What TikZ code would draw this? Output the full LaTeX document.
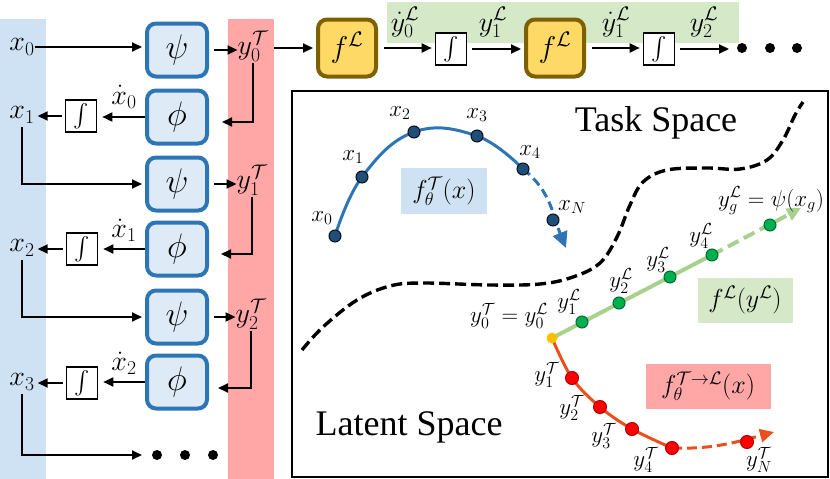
\documentclass[tikz,border=0pt]{standalone}
\usepackage{fix-cm}
\usepackage{graphicx}
\usepackage[no-math]{fontspec}
\setmainfont{Liberation Serif}
\usetikzlibrary{arrows.meta}
\definecolor{colblue}{RGB}{207,226,243}
\definecolor{colred}{RGB}{255,166,166}
\definecolor{boxfill}{RGB}{222,235,247}
\definecolor{boxline}{RGB}{46,117,182}
\definecolor{fLfill}{RGB}{255,217,102}
\definecolor{fLline}{RGB}{127,96,0}
\definecolor{colgreen}{RGB}{213,232,200}
\definecolor{curveblue}{RGB}{46,117,182}
\definecolor{dotblue}{RGB}{31,78,121}
\definecolor{linegreen}{RGB}{169,209,142}
\definecolor{dotgreen}{RGB}{0,176,80}
\definecolor{linered}{RGB}{232,80,30}
\definecolor{dotred}{RGB}{255,0,0}
\definecolor{dotyellow}{RGB}{255,192,0}
\newcommand{\bigint}{\scalebox{2.3}{$\int$}}
\tikzset{
  arr/.style={-{Triangle[length=10pt,width=9pt]}, line width=1.8pt},
  psibox/.style={rectangle, rounded corners=9pt, draw=boxline, fill=boxfill, line width=4pt,
    minimum width=60pt, minimum height=53pt, inner sep=0pt, font=\fontsize{34}{40}\selectfont},
  flbox/.style={rectangle, rounded corners=9pt, draw=fLline, fill=fLfill, line width=4pt,
    minimum width=58pt, minimum height=57pt, inner sep=0pt, font=\fontsize{30}{36}\selectfont},
  intbox/.style={rectangle, draw, line width=1.6pt, fill=white, minimum width=31pt,
    minimum height=32pt, inner sep=0pt},
  lab/.style={inner sep=0pt, font=\fontsize{28}{32}\selectfont},
  plab/.style={inner sep=0pt, font=\fontsize{23}{27}\selectfont},
  tlab/.style={inner sep=0pt, font=\fontsize{36}{40}\selectfont},
  lbox/.style={inner sep=0pt, font=\fontsize{26}{30}\selectfont},
  bigdot/.style={circle, fill=black, minimum size=10pt, inner sep=0pt},
  bdot/.style={circle, fill=dotblue, draw=black!80!dotblue, line width=1pt, minimum size=12pt, inner sep=0pt},
  gdot/.style={circle, fill=dotgreen, draw=black!40!dotgreen, line width=1pt, minimum size=12pt, inner sep=0pt},
  rdot/.style={circle, fill=dotred, draw=black!30!dotred, line width=1pt, minimum size=13pt, inner sep=0pt},
  ydot/.style={circle, fill=dotyellow, minimum size=11pt, inner sep=0pt},
}
\begin{document}
\begin{tikzpicture}[x=1pt,y=-1pt]
\useasboundingbox (0,0) rectangle (830,479);
% background bands
\fill[colblue] (0,19) rectangle (46,479);
\fill[colred] (228,19) rectangle (274,479);
\fill[colgreen] (387,2) rectangle (739,43);

% left column labels
\node[lab] (x0) at (22,47) {$x_0$};
\node[lab] (x1) at (22,115) {$x_1$};
\node[lab] (x2) at (22,248) {$x_2$};
\node[lab] (x3) at (22,382) {$x_3$};

% psi / phi boxes
\node[psibox] (psi1) at (177,50) {$\psi$};
\node[psibox] (phi1) at (177,117) {$\phi$};
\node[psibox] (psi2) at (177,184) {$\psi$};
\node[psibox] (phi2) at (177,249) {$\phi$};
\node[psibox] (psi3) at (177,317) {$\psi$};
\node[psibox] (phi3) at (177,382) {$\phi$};

% integrators (left)
\node[intbox] (int1) at (81,116) {\bigint};
\node[intbox] (int2) at (82,249) {\bigint};
\node[intbox] (int3) at (82,383) {\bigint};

% red column labels
\node[lab] (y0T) at (253,46) {$y_0^{\mathcal{T}}$};
\node[lab] (y1T) at (252,180) {$y_1^{\mathcal{T}}$};
\node[lab] (y2T) at (251,314) {$y_2^{\mathcal{T}}$};

% xdot labels
\node[lab, anchor=base] (xd0) at (124,104) {$\dot{x}_0$};
\node[lab, anchor=base] (xd1) at (124,237) {$\dot{x}_1$};
\node[lab, anchor=base] (xd2) at (124,370) {$\dot{x}_2$};

% coordinates for arrow ends
\coordinate (c1) at (222,122);
\coordinate (c2) at (221,254);
\coordinate (c3) at (218,388);
\coordinate (e3) at (142,455);

% left arrows
\draw[arr, shorten >=3pt] (x0.east) -- (x0.east -| psi1.west);
\draw[arr, shorten <=5pt] (psi1.east) -- (psi1.east -| y0T.west);
\draw[arr, shorten <=5pt] (psi2.east) -- (psi2.east -| y1T.west);
\draw[arr, shorten <=5pt] (psi3.east) -- (psi3.east -| y2T.west);
\draw[arr, shorten <=2pt] (y0T.south) |- (c1);
\draw[arr, shorten <=2pt] (y1T.south) |- (c2);
\draw[arr, shorten <=2pt] (y2T.south) |- (c3);
\draw[arr, shorten >=5pt] (phi1.west) -- (phi1.west -| int1.east);
\draw[arr, shorten >=5pt] (phi2.west) -- (phi2.west -| int2.east);
\draw[arr, shorten >=5pt] (phi3.west) -- (phi3.west -| int3.east);
\draw[arr, shorten <=3pt, shorten >=3pt] (int1.west) -- (int1.west -| x1.east);
\draw[arr, shorten <=3pt, shorten >=3pt] (int2.west) -- (int2.west -| x2.east);
\draw[arr, shorten <=3pt, shorten >=3pt] (int3.west) -- (int3.west -| x3.east);
\draw[arr, shorten <=4pt, shorten >=3pt] (x1.south) |- (psi2.west);
\draw[arr, shorten <=4pt, shorten >=3pt] (x2.south) |- (psi3.west);
\draw[arr, shorten <=4pt] (x3.south) |- (e3);
\node[bigdot] (ld1) at (157,455) {};
\node[bigdot] (ld2) at (185,455) {};
\node[bigdot] (ld3) at (213,455) {};

% top row
\coordinate (t0) at (274,48);
\coordinate (t5) at (729,48);
\node[flbox] (fL1) at (347,48) {$f^{\mathcal{L}}$};
\node[intbox] (int4) at (451,49) {\bigint};
\node[flbox] (fL2) at (555,48) {$f^{\mathcal{L}}$};
\node[intbox] (int5) at (659,49) {\bigint};
\draw[arr, shorten >=3pt] (t0) -- (t0 -| fL1.west);
\draw[arr, shorten <=6pt, shorten >=3pt] (fL1.east) -- (fL1.east -| int4.west);
\draw[arr, shorten <=5pt, shorten >=3pt] (int4.east) -- (int4.east -| fL2.west);
\draw[arr, shorten <=6pt, shorten >=3pt] (fL2.east) -- (fL2.east -| int5.west);
\draw[arr, shorten <=5pt] (int5.east) -- (int5.east -| t5);
\node[lab, anchor=base] (yd0) at (405,31) {$\dot{y}_0^{\mathcal{L}}$};
\node[lab, anchor=base] (y1L) at (493,31) {$y_1^{\mathcal{L}}$};
\node[lab, anchor=base] (yd1) at (616,31) {$\dot{y}_1^{\mathcal{L}}$};
\node[lab, anchor=base] (y2L) at (704,31) {$y_2^{\mathcal{L}}$};
\node[bigdot] (td1) at (742,48) {};
\node[bigdot] (td2) at (770,48) {};
\node[bigdot] (td3) at (797,48) {};

% panel
\draw[line width=2pt] (292,91) rectangle (828,477);
\node[tlab] (task) at (656,123) {Task Space};
\node[tlab] (latent) at (409,427) {Latent Space};

% dashed boundary
\draw[line width=3.4pt, dash pattern=on 11pt off 5pt] plot[smooth, tension=0.6] coordinates {
  (302,350) (323,327) (357,300) (390,286) (423,283) (490,285) (540,284) (573,277)
  (600,263) (617,237) (630,205) (643,182) (667,170) (707,168) (740,169) (767,160)
  (783,140) (795,115) (803,102)};

% label boxes
\node[lbox, fill=colblue, minimum width=86pt, minimum height=46pt] (fT) at (444,191) {$f_\theta^{\mathcal{T}}(x)$};
\node[lbox, fill=colgreen, minimum width=95pt, minimum height=45pt] (fLy) at (745,300) {$f^{\mathcal{L}}(y^{\mathcal{L}})$};
\node[lbox, fill=colred, minimum width=125pt, minimum height=45pt] (fTL) at (708,386) {$f_\theta^{\mathcal{T}\rightarrow\mathcal{L}}(x)$};

% blue trajectory
\coordinate (B0) at (335,236);
\coordinate (B1) at (362,177);
\coordinate (B2) at (414,132);
\coordinate (B3) at (477,136);
\coordinate (B4) at (523,169);
\coordinate (BN) at (553,220);
\coordinate (BT) at (566,248);
\draw[curveblue, line width=3pt] plot[smooth, tension=0.7] coordinates {(B0) (B1) (B2) (B3) (B4)};
\draw[curveblue, line width=3pt, dash pattern=on 9pt off 5pt, -{Triangle[length=16pt,width=15pt]}] (B4) to[out=-38, in=112] (BT);
\foreach \p/\n in {B0/bd0,B1/bd1,B2/bd2,B3/bd3,B4/bd4,BN/bdN} \node[bdot] (\n) at (\p) {};
\node[plab] (lx0) at (322,218) {$x_0$};
\node[plab] (lx1) at (353,157) {$x_1$};
\node[plab] (lx2) at (400,113) {$x_2$};
\node[plab] (lx3) at (477,115) {$x_3$};
\node[plab] (lx4) at (530,152) {$x_4$};
\node[plab] (lxN) at (572,207) {$x_N$};

% green trajectory
\coordinate (Y0) at (552,338);
\coordinate (G1) at (582,322);
\coordinate (G2) at (619,303);
\coordinate (G3) at (670,277);
\coordinate (G4) at (712,255);
\coordinate (Gg) at (770,225);
\coordinate (GT) at (801,208);
\draw[linegreen, line width=4pt] (Y0) -- (G4);
\draw[linegreen, line width=4pt, dash pattern=on 12pt off 6pt, -{Triangle[length=14pt,width=13pt]}] (G4) -- (GT);

% red trajectory
\coordinate (R1) at (572,378);
\coordinate (R2) at (600,407);
\coordinate (R3) at (632,429);
\coordinate (R4) at (672,448);
\coordinate (RN) at (747,442);
\coordinate (RT) at (774,432);
\draw[linered, line width=3pt] plot[smooth, tension=0.6] coordinates {(Y0) (R1) (R2) (R3) (R4)};
\draw[linered, line width=3pt, dash pattern=on 10pt off 5pt, -{Triangle[length=14pt,width=13pt]}] (R4) to[out=-2, in=195] (RT);

\foreach \p/\n in {G1/gd1,G2/gd2,G3/gd3,G4/gd4,Gg/gdg} \node[gdot] (\n) at (\p) {};
\foreach \p/\n in {R1/rd1,R2/rd2,R3/rd3,R4/rd4,RN/rdN} \node[rdot] (\n) at (\p) {};
\node[ydot] (yd) at (Y0) {};

\node[plab] (ly0) at (509,316) {$y_0^{\mathcal{T}}=y_0^{\mathcal{L}}$};
\node[plab] (lg1) at (569,302) {$y_1^{\mathcal{L}}$};
\node[plab] (lg2) at (621,281) {$y_2^{\mathcal{L}}$};
\node[plab] (lg3) at (658,260) {$y_3^{\mathcal{L}}$};
\node[plab] (lg4) at (701,236) {$y_4^{\mathcal{L}}$};
\node[plab] (lgg) at (771,201) {$y_g^{\mathcal{L}}=\psi(x_g)$};
\node[plab] (lr1) at (547,375) {$y_1^{\mathcal{T}}$};
\node[plab] (lr2) at (572,408) {$y_2^{\mathcal{T}}$};
\node[plab] (lr3) at (604,436) {$y_3^{\mathcal{T}}$};
\node[plab] (lr4) at (646,460) {$y_4^{\mathcal{T}}$};
\node[plab] (lrN) at (759,460) {$y_N^{\mathcal{T}}$};
\end{tikzpicture}
\end{document}
